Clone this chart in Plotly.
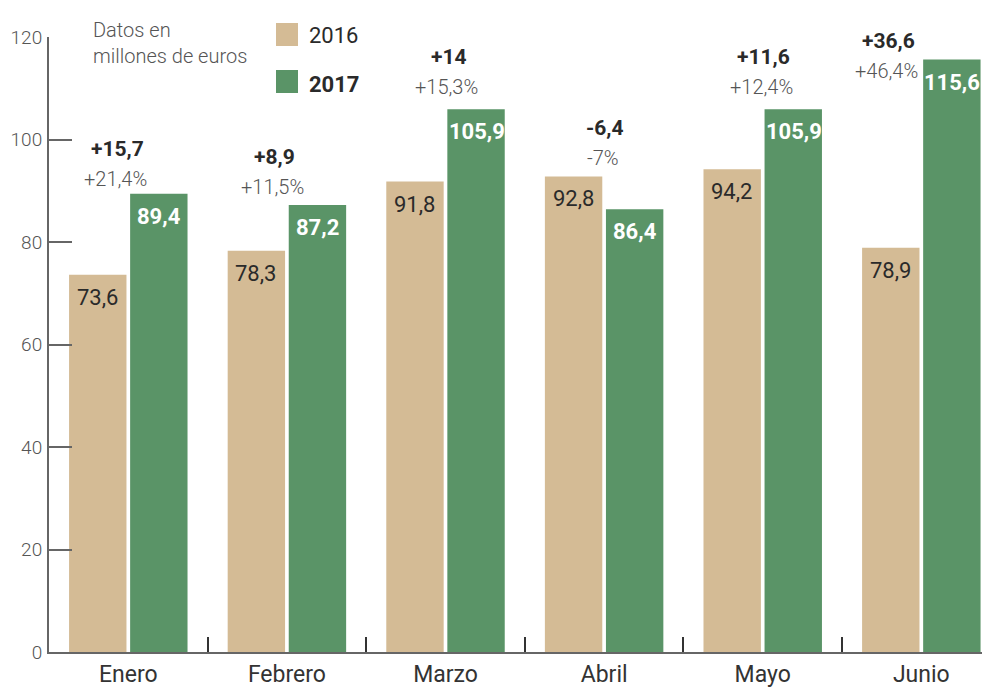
import plotly.graph_objects as go

months = ["Enero", "Febrero", "Marzo", "Abril", "Mayo", "Junio"]
values_2016 = [73.6, 78.3, 91.8, 92.8, 94.2, 78.9]
values_2017 = [89.4, 87.2, 105.9, 86.4, 105.9, 115.6]
diff_labels = ["+15,7", "+8,9", "+14", "-6,4", "+11,6", "+36,6"]
pct_labels = ["+21,4%", "+11,5%", "+15,3%", "-7%", "+12,4%", "+46,4%"]
y_ticks = [0, 20, 40, 60, 80, 100, 120]

C2016 = "#D4BB95"
C2017 = "#5A9467"
FONT = "Roboto, DejaVu Sans Condensed, sans-serif"
DARK = "#2a2a2a"
GREY = "#555555"

# page offset compensation (browser body margin)
OFF = 8
W, H = 990, 690
ML, MR, MT = 49 - OFF, OFF, 37 - OFF
MB = H - (652 - OFF)


def px(x):
    # screen pixel -> plot-area paper fraction
    return (x - OFF - ML) / (W - ML - MR)


def py(y):
    return 1 - (y - OFF - MT) / (H - MT - MB)


def fmt(v):
    return f"{v:.1f}".replace(".", ",")


fig = go.Figure()
fig.add_trace(go.Bar(x=months, y=values_2016, marker=dict(color=C2016, line=dict(width=0)),
                     name="2016", showlegend=False, hoverinfo="skip"))
fig.add_trace(go.Bar(x=months, y=values_2017, marker=dict(color=C2017, line=dict(width=0)),
                     name="2017", showlegend=False, hoverinfo="skip"))

annotations = []
# value labels inside bars (near top)
for i, m in enumerate(months):
    annotations.append(dict(x=m, y=values_2016[i], xref="x", yref="y", xshift=-31, yshift=-8,
                            text=fmt(values_2016[i]), showarrow=False, yanchor="top",
                            font=dict(family=FONT, size=22, color=DARK)))
    annotations.append(dict(x=m, y=values_2017[i], xref="x", yref="y", xshift=31, yshift=-8,
                            text="<b>" + fmt(values_2017[i]) + "</b>", showarrow=False, yanchor="top",
                            font=dict(family=FONT, size=22, color="white")))

# difference labels positioned relative to the taller bar of each month
diff_xshift = [-11, -12, 3, 1, 1, -33]
diff_yshift = [33, 36, 40, 36, 40, 7]
for i, m in enumerate(months):
    top = max(values_2016[i], values_2017[i])
    annotations.append(dict(x=m, y=top, xref="x", yref="y", xshift=diff_xshift[i],
                            yshift=diff_yshift[i] + 12, text="<b>" + diff_labels[i] + "</b>",
                            showarrow=False, yanchor="middle",
                            font=dict(family=FONT, size=21, color=DARK)))
    annotations.append(dict(x=m, y=top, xref="x", yref="y", xshift=diff_xshift[i] - 2,
                            yshift=diff_yshift[i] - 18, text=pct_labels[i],
                            showarrow=False, yanchor="middle",
                            font=dict(family=FONT, size=20, color=GREY, weight=300)))

fig.update_layout(
    width=W, height=H,
    margin=dict(l=ML, r=MR, t=MT, b=MB, autoexpand=False),
    paper_bgcolor="white", plot_bgcolor="white",
    barmode="group", bargap=0.23, bargroupgap=0.06,
    font=dict(family=FONT, color=DARK),
    xaxis=dict(range=[-0.5, 5.433], showline=True, linecolor="#666666", linewidth=2,
               ticks="inside", tickson="boundaries", ticklen=15, tickcolor="#333333", tickwidth=1.5,
               tickfont=dict(family=FONT, size=23, color="#333333"), showgrid=False,
               zeroline=False, fixedrange=True, automargin=False),
    yaxis=dict(range=[0, 120], tickvals=y_ticks, showline=True, linecolor="#666666", linewidth=2,
               ticks="inside", ticklen=23, tickcolor="#666666", tickwidth=1.5,
               tickfont=dict(family=FONT, size=19, color=GREY, weight=300), showgrid=False,
               zeroline=False, ticklabelstandoff=1, automargin=False),
    annotations=annotations,
    showlegend=False,
)

# unit note and manual legend
fig.add_annotation(x=px(91), y=py(43), xref="paper", yref="paper", xanchor="left",
                   yanchor="middle", align="left", showarrow=False,
                   text="Datos en<br>millones de euros",
                   font=dict(family=FONT, size=20, color=GREY, weight=300))
fig.add_shape(type="rect", xref="paper", yref="paper", x0=px(276), x1=px(298),
              y0=py(46), y1=py(23), fillcolor=C2016, line=dict(width=0))
fig.add_shape(type="rect", xref="paper", yref="paper", x0=px(276), x1=px(298),
              y0=py(93), y1=py(70), fillcolor=C2017, line=dict(width=0))
fig.add_annotation(x=px(307), y=py(35), xref="paper", yref="paper", xanchor="left",
                   yanchor="middle", showarrow=False, text="2016",
                   font=dict(family=FONT, size=22, color=DARK))
fig.add_annotation(x=px(307), y=py(84), xref="paper", yref="paper", xanchor="left",
                   yanchor="middle", showarrow=False, text="<b>2017</b>",
                   font=dict(family=FONT, size=22, color=DARK))

fig.write_html("out.html")
